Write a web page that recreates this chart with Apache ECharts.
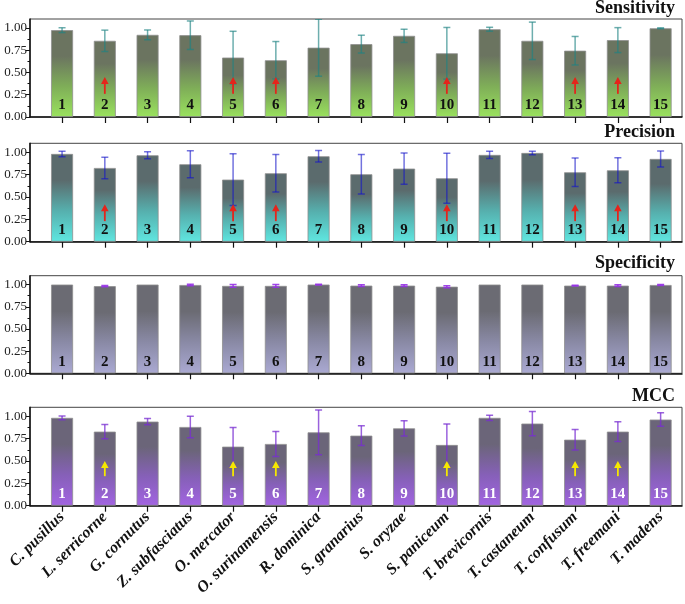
<!DOCTYPE html>
<html><head><meta charset="utf-8">
<script src="https://cdn.jsdelivr.net/npm/echarts@6/dist/echarts.min.js"></script>
<style>html,body{margin:0;padding:0;background:#fff}#c{width:685px;height:604px}</style>
</head><body><div id="c"></div>
<script>
const species = ['C. pusillus','L. serricorne','G. cornutus','Z. subfasciatus','O. mercator','O. surinamensis','R. dominica','S. granarius','S. oryzae','S. paniceum','T. brevicornis','T. castaneum','T. confusum','T. freemani','T. madens'];
const barIds = [1,2,3,4,5,6,7,8,9,10,11,12,13,14,15];

const sensitivity    = [0.975,0.855,0.922,0.918,0.667,0.637,0.778,0.818,0.911,0.715,0.985,0.855,0.744,0.863,0.996];
const sensitivityErr = [0.027,0.120,0.055,0.160,0.295,0.210,0.320,0.100,0.074,0.290,0.022,0.210,0.160,0.140,0.005];
const precision      = [0.981,0.824,0.966,0.866,0.694,0.765,0.955,0.754,0.817,0.709,0.970,0.992,0.776,0.798,0.925];
const precisionErr   = [0.030,0.120,0.040,0.150,0.290,0.210,0.065,0.220,0.175,0.280,0.040,0.020,0.160,0.140,0.090];
const specificity    = [1.000,0.982,1.000,0.995,0.985,0.985,1.000,0.988,0.988,0.976,1.000,1.000,0.988,0.988,0.995];
const specificityErr = [0.000,0.007,0.000,0.008,0.015,0.015,0.005,0.010,0.010,0.012,0.000,0.000,0.004,0.010,0.005];
const mcc            = [0.982,0.828,0.940,0.880,0.660,0.690,0.820,0.783,0.865,0.679,0.982,0.918,0.738,0.828,0.963];
const mccErr         = [0.022,0.080,0.035,0.120,0.215,0.140,0.250,0.110,0.085,0.235,0.030,0.135,0.115,0.110,0.075];

const arrowBars = [2,5,6,10,13,14];
const arrowTail = [0.26, 0.23, null, 0.33];
const arrowTip  = [0.45, 0.42, null, 0.50];

const yTicks = [0, 0.25, 0.5, 0.75, 1.0];
const yMinorTicks = [0.125, 0.375, 0.625, 0.875];
const titles = ['Sensitivity','Precision','Specificity','MCC'];

const panels = [
  {vals: sensitivity, err: sensitivityErr, top:'#6b7460', mid:'#7fae58', bot:'#9ae25e', errCol:'rgba(30,130,130,0.65)', arrow:'#e5241b', num:'#111'},
  {vals: precision,   err: precisionErr,   top:'#5b6b6d', mid:'#56b0ae', bot:'#5fe6e0', errCol:'rgba(20,20,200,0.6)', arrow:'#e5241b', num:'#111'},
  {vals: specificity, err: specificityErr, top:'#6b6b73', mid:'#8a8aa6', bot:'#aaa9d2', errCol:'rgba(150,50,230,0.9)', arrow:null, num:'#111'},
  {vals: mcc,         err: mccErr,         top:'#6b6579', mid:'#8660b8', bot:'#a264e2', errCol:'rgba(120,45,210,0.75)', arrow:'#f5e800', num:'#fff'}
];
const gridPos = [
  {top:19, height:98}, {top:143.3, height:98.4}, {top:275.7, height:97.6}, {top:407.3, height:98.4}
];
const titleY = [9, 133, 264, 397];

const serif = 'Liberation Serif';
const grid = [], xAxis = [], yAxis = [], series = [], graphic = [];

panels.forEach((p, i) => {
  grid.push({left:30, right:3, top:gridPos[i].top, height:gridPos[i].height, show:true, borderColor:'#444', borderWidth:1, backgroundColor:'transparent'});
  xAxis.push({
    gridIndex:i, type:'value', min:0.25, max:15.5,
    axisLine:{show:true, onZero:false, lineStyle:{color:'#111', width:1.5}},
    axisTick:{show:true, customValues:barIds, length:6, lineStyle:{color:'#111', width:1.2}},
    axisLabel:{show:i===3, customValues:barIds, formatter:v => species[Math.round(v)-1] || '', rotate:45, margin:9,
      fontFamily:serif, fontStyle:'italic', fontWeight:'bold', fontSize:16, color:'#111'},
    splitLine:{show:false}
  });
  yAxis.push({
    gridIndex:i, type:'value', min:0, max:1.1, position:'left',
    axisLine:{show:true, lineStyle:{color:'#111', width:1.5}},
    axisTick:{show:true, customValues:yTicks, length:4, lineStyle:{color:'#111'}},
    axisLabel:{show:true, customValues:yTicks, formatter:v => v.toFixed(2), margin:3, fontFamily:serif, fontSize:13, color:'#222'},
    splitLine:{show:false}
  });
  yAxis.push({
    gridIndex:i, type:'value', min:0, max:1.1, position:'left',
    axisLine:{show:false},
    axisTick:{show:true, customValues:yMinorTicks, length:2.5, lineStyle:{color:'#111'}},
    axisLabel:{show:false}, splitLine:{show:false}
  });
  series.push({
    type:'bar', xAxisIndex:i, yAxisIndex:2*i, barWidth:22,
    data: barIds.map((c, k) => [c, p.vals[k]]),
    itemStyle:{
      color:{type:'linear', x:0, y:0, x2:0, y2:1, colorStops:[
        {offset:0, color:p.top}, {offset:0.3, color:p.top}, {offset:0.65, color:p.mid}, {offset:1, color:p.bot}]},
      borderColor:'#8f8f8f', borderWidth:0.8
    },
    label:{show:true, position:'insideBottom', distance:4, formatter:q => String(q.value[0]),
      fontFamily:serif, fontWeight:'bold', fontSize:15, color:p.num},
    silent:true, animation:false, z:2
  });
  series.push({
    type:'custom', xAxisIndex:i, yAxisIndex:2*i, clip:true, animation:false, z:3, silent:true,
    data: barIds.map((c, k) => [c, p.vals[k] - p.err[k], p.vals[k] + p.err[k], p.err[k]]).filter(d => d[3] > 0),
    encode:{x:0, y:[1,2]},
    renderItem:(params, api) => {
      const x = api.value(0);
      const lo = api.coord([x, api.value(1)]);
      const hi = api.coord([x, api.value(2)]);
      const hw = 3.5;
      const st = {stroke:p.errCol, lineWidth:1.5};
      return {type:'group', children:[
        {type:'line', shape:{x1:lo[0], y1:lo[1], x2:hi[0], y2:hi[1]}, style:st},
        {type:'line', shape:{x1:lo[0]-hw, y1:lo[1], x2:lo[0]+hw, y2:lo[1]}, style:st},
        {type:'line', shape:{x1:hi[0]-hw, y1:hi[1], x2:hi[0]+hw, y2:hi[1]}, style:st}
      ]};
    }
  });
  if (p.arrow) {
    series.push({
      type:'custom', xAxisIndex:i, yAxisIndex:2*i, animation:false, z:4, silent:true,
      data: arrowBars.map(b => [b, arrowTail[i], arrowTip[i]]),
      encode:{x:0, y:[1,2]},
      renderItem:(params, api) => {
        const x = api.value(0);
        const t = api.coord([x, api.value(1)]);
        const h = api.coord([x, api.value(2)]);
        const headLen = 7, headW = 3.8;
        return {type:'group', children:[
          {type:'line', shape:{x1:t[0], y1:t[1], x2:h[0], y2:h[1]+headLen-1}, style:{stroke:p.arrow, lineWidth:1.8}},
          {type:'polygon', shape:{points:[[h[0], h[1]], [h[0]-headW, h[1]+headLen], [h[0]+headW, h[1]+headLen]]}, style:{fill:p.arrow}}
        ]};
      }
    });
  }
  graphic.push({type:'text', right:10, top:titleY[i]-10, style:{text:titles[i], fontFamily:serif, fontWeight:'bold', fontSize:18, fill:'#111'}});
});

const chart = echarts.init(document.getElementById('c'), null, {renderer:'canvas'});
chart.setOption({animation:false, grid, xAxis, yAxis, series, graphic});
</script>
</body></html>
